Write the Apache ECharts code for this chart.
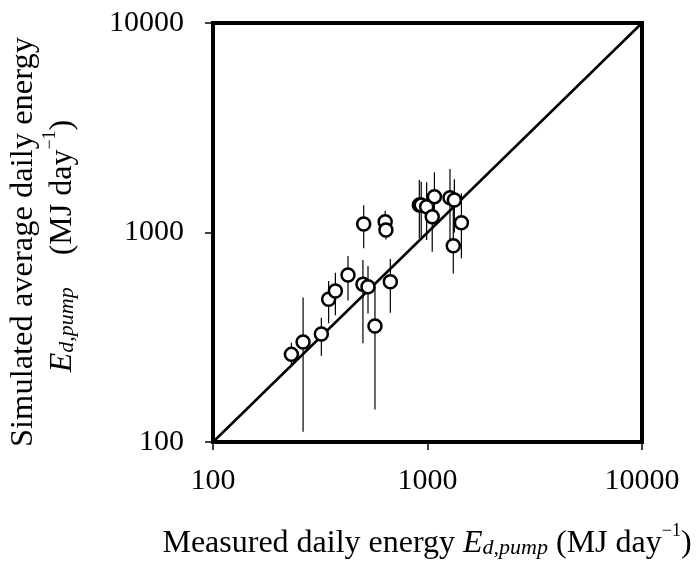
<!DOCTYPE html>
<html>
<head>
<meta charset="utf-8">
<script src="https://cdn.jsdelivr.net/npm/echarts@6/dist/echarts.min.js"></script>
<style>
  html, body { margin: 0; padding: 0; background: #fff; }
  #chart { width: 698px; height: 565px; }
</style>
</head>
<body>
<div id="chart"></div>
<script>
// ---- data ----
const measured  = [232, 263, 320, 346, 372, 426, 504, 500, 528, 569, 635, 640, 671, 916, 935, 991, 1077, 1052, 1273, 1334, 1319, 1439];
const simulated = [262, 300, 328, 480, 526, 627, 1098, 566, 551, 358, 1126, 1028, 582, 1352, 1352, 1327, 1483, 1190, 1466, 1429, 865, 1114];
const errLow    = [233, 112, 258, 369, 403, 473, 841, 296, 411, 143, 1000, 927, 414, 938, 921, 921, 1066, 809, 921, 1000, 638, 753];
const errHigh   = [298, 489, 392, 587, 643, 773, 1349, 740, 692, 551, 1270, 1150, 747, 1781, 1748, 1736, 1937, 1400, 2010, 1796, 1377, 1537];
const axisTicks = [100, 1000, 10000];
const oneToOne  = [100, 10000];

const FONT = '"Liberation Serif", "Times New Roman", serif';

const points = measured.map((m, i) => [m, simulated[i]]);
const bars = measured.map((m, i) => [m, errLow[i], errHigh[i]]);
const diag = oneToOne.map(v => [v, v]);

const chart = echarts.init(document.getElementById('chart'), null, { renderer: 'canvas' });

const richBase = {
  n:   { fontFamily: FONT, fontSize: 32, color: '#000', verticalAlign: 'bottom', lineHeight: 37 },
  i:   { fontFamily: FONT, fontSize: 32, color: '#000', fontStyle: 'italic', verticalAlign: 'bottom', lineHeight: 37 },
  s:   { fontFamily: FONT, fontSize: 22, color: '#000', fontStyle: 'italic', verticalAlign: 'bottom', lineHeight: 28 },
  sup: { fontFamily: FONT, fontSize: 18, color: '#000', verticalAlign: 'top', lineHeight: 26 }
};

chart.setOption({
  animation: false,
  backgroundColor: '#fff',
  grid: { left: 213, right: 56, top: 23, bottom: 123, show: true, borderColor: '#000', borderWidth: 4, backgroundColor: 'transparent' },
  xAxis: {
    type: 'log', logBase: 10, min: axisTicks[0], max: axisTicks[axisTicks.length - 1], splitNumber: 2,
    axisLine: { show: false },
    axisTick: { show: true, inside: false, length: 8, lineStyle: { color: '#000', width: 1.5 } },
    minorTick: { show: false },
    splitLine: { show: false },
    axisLabel: { fontFamily: FONT, fontSize: 30, color: '#000', margin: 24, formatter: v => String(Math.round(v)) }
  },
  yAxis: {
    type: 'log', logBase: 10, min: axisTicks[0], max: axisTicks[axisTicks.length - 1], splitNumber: 2,
    axisLine: { show: false },
    axisTick: { show: true, inside: false, length: 8, lineStyle: { color: '#000', width: 1.5 } },
    minorTick: { show: false },
    splitLine: { show: false },
    axisLabel: { fontFamily: FONT, fontSize: 30, color: '#000', margin: 29, formatter: v => String(Math.round(v)) }
  },
  graphic: [
    {
      type: 'text', x: 23, y: 242, rotation: Math.PI / 2,
      style: { text: 'Simulated average daily energy', fontFamily: FONT, fontSize: 32.5, fill: '#000', align: 'center', verticalAlign: 'middle' }
    },
    {
      type: 'text', x: 60, y: 246, rotation: Math.PI / 2,
      style: { text: '{i|E}{s|d,pump}{n|    (MJ day}{sup|\u22121}{n|)}', align: 'center', verticalAlign: 'middle', rich: richBase }
    },
    {
      type: 'text', x: 427, y: 541,
      style: { text: '{n|Measured daily energy }{i|E}{s|d,pump}{n| (MJ day}{sup|\u22121}{n|)}', align: 'center', verticalAlign: 'middle', rich: richBase }
    }
  ],
  series: [
    {
      type: 'line', data: diag, symbol: 'none', z: 1,
      lineStyle: { color: '#000', width: 2.5 }
    },
    {
      type: 'custom', data: bars, z: 2,
      renderItem: function (params, api) {
        const top = api.coord([api.value(0), api.value(2)]);
        const bot = api.coord([api.value(0), api.value(1)]);
        return { type: 'line', shape: { x1: top[0], y1: top[1], x2: bot[0], y2: bot[1] }, style: { stroke: '#000', lineWidth: 1.2 } };
      }
    },
    {
      type: 'scatter', data: points, z: 3, symbol: 'circle', symbolSize: 13,
      itemStyle: { color: '#fff', borderColor: '#000', borderWidth: 2.5, opacity: 1 }
    }
  ]
});
</script>
</body>
</html>
